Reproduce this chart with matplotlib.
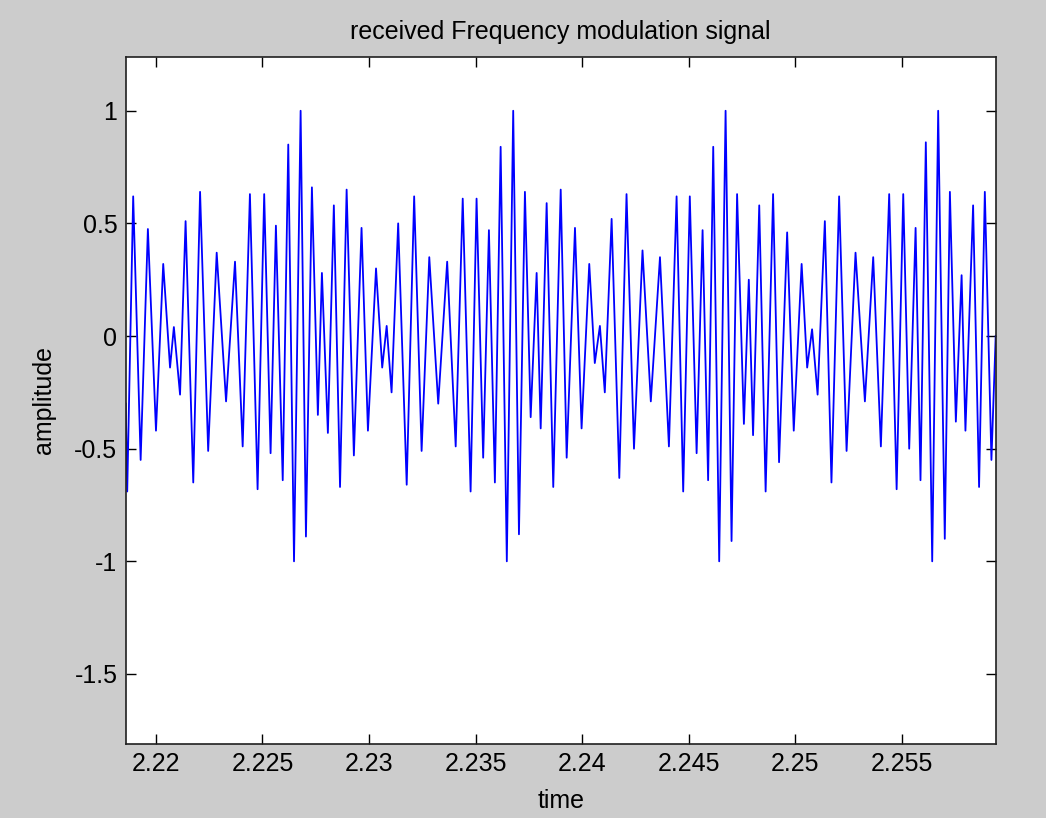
import numpy as np
import matplotlib
matplotlib.use("Agg")
import matplotlib.pyplot as plt

# peaks / troughs of the received signal
t = [2.21858, 2.21865, 2.21893, 2.21928, 2.21962, 2.22000, 2.22034, 2.22066, 2.22084, 2.22113,
     2.22139, 2.22175, 2.22207, 2.22245, 2.22285, 2.22329, 2.22371, 2.22407, 2.22441, 2.22477,
     2.22508, 2.22538, 2.22563, 2.22595, 2.22621, 2.22648, 2.22679, 2.22704, 2.22732, 2.22760,
     2.22779, 2.22807, 2.22835, 2.22864, 2.22895, 2.22929, 2.22965, 2.22995, 2.23033, 2.23062,
     2.23083, 2.23106, 2.23137, 2.23177, 2.23212, 2.23247, 2.23283, 2.23325, 2.23367, 2.23407,
     2.23440, 2.23477, 2.23505, 2.23536, 2.23563, 2.23591, 2.23618, 2.23647, 2.23677, 2.23704,
     2.23732, 2.23759, 2.23787, 2.23806, 2.23834, 2.23865, 2.23900, 2.23928, 2.23967, 2.23998,
     2.24034, 2.24060, 2.24084, 2.24107, 2.24139, 2.24175, 2.24209, 2.24244, 2.24284, 2.24323,
     2.24366, 2.24408, 2.24444, 2.24475, 2.24506, 2.24538, 2.24566, 2.24592, 2.24616, 2.24644,
     2.24674, 2.24702, 2.24728, 2.24760, 2.24783, 2.24803, 2.24832, 2.24862, 2.24897, 2.24925,
     2.24963, 2.24994, 2.25031, 2.25057, 2.25080, 2.25106, 2.25140, 2.25171, 2.25207, 2.25242,
     2.25284, 2.25328, 2.25367, 2.25403, 2.25442, 2.25477, 2.25508, 2.25536, 2.25566, 2.25589,
     2.25614, 2.25644, 2.25672, 2.25703, 2.25727, 2.25755, 2.25782, 2.25800, 2.25836, 2.25864,
     2.25891, 2.25922, 2.25942]

amp = [-0.30, -0.69, 0.62, -0.55, 0.475, -0.42, 0.32, -0.14, 0.04, -0.26,
       0.51, -0.65, 0.64, -0.51, 0.37, -0.29, 0.33, -0.49, 0.63, -0.68,
       0.63, -0.52, 0.49, -0.64, 0.85, -1.0, 1.0, -0.89, 0.66, -0.35,
       0.28, -0.43, 0.58, -0.67, 0.65, -0.53, 0.48, -0.42, 0.30, -0.14,
       0.045, -0.25, 0.50, -0.66, 0.62, -0.51, 0.35, -0.30, 0.33, -0.49,
       0.61, -0.69, 0.61, -0.54, 0.47, -0.65, 0.84, -1.0, 1.0, -0.88,
       0.64, -0.36, 0.28, -0.41, 0.59, -0.67, 0.65, -0.54, 0.48, -0.41,
       0.32, -0.12, 0.045, -0.25, 0.52, -0.63, 0.63, -0.50, 0.38, -0.29,
       0.35, -0.49, 0.62, -0.69, 0.62, -0.52, 0.47, -0.64, 0.84, -1.0,
       1.0, -0.91, 0.63, -0.39, 0.25, -0.44, 0.58, -0.69, 0.63, -0.56,
       0.46, -0.42, 0.32, -0.14, 0.03, -0.26, 0.51, -0.65, 0.62, -0.51,
       0.37, -0.29, 0.35, -0.49, 0.63, -0.68, 0.63, -0.50, 0.48, -0.64,
       0.86, -1.0, 1.0, -0.90, 0.64, -0.38, 0.27, -0.42, 0.58, -0.67,
       0.64, -0.55, 0.0]

xticks = [2.22, 2.225, 2.23, 2.235, 2.24, 2.245, 2.25, 2.255]
xticklabels = ['2.22', '2.225', '2.23', '2.235', '2.24', '2.245', '2.25', '2.255']
yticks = [-1.5, -1, -0.5, 0, 0.5, 1]
yticklabels = ['-1.5', '-1', '-0.5', '0', '0.5', '1']

plt.rcParams['font.family'] = ['Liberation Sans', 'DejaVu Sans']
plt.rcParams['axes.unicode_minus'] = False

fig = plt.figure(figsize=(10.46, 8.18), dpi=100, facecolor='#cccccc')
ax = fig.add_axes([0.1202, 0.0907, 0.8317, 0.84])
ax.set_facecolor('white')

ax.plot(np.array(t), np.array(amp), color='#0000ff', lw=1.3)

ax.set_xlim(2.21858, 2.25942)
ax.set_ylim(-1.81, 1.24)
ax.set_xticks(xticks)
ax.set_xticklabels(xticklabels)
ax.set_yticks(yticks)
ax.set_yticklabels(yticklabels)
ax.tick_params(direction='in', length=7, width=1, top=True, right=True,
               labelsize=18, pad=6, colors='black')
for s in ax.spines.values():
    s.set_linewidth(1.2)
    s.set_color('#202020')

ax.set_title('received Frequency modulation signal', fontsize=18, pad=13)
ax.set_xlabel('time', fontsize=18, labelpad=9)
ax.set_ylabel('amplitude', fontsize=18, labelpad=13)

fig.savefig('out.png', dpi=100, facecolor=fig.get_facecolor())
